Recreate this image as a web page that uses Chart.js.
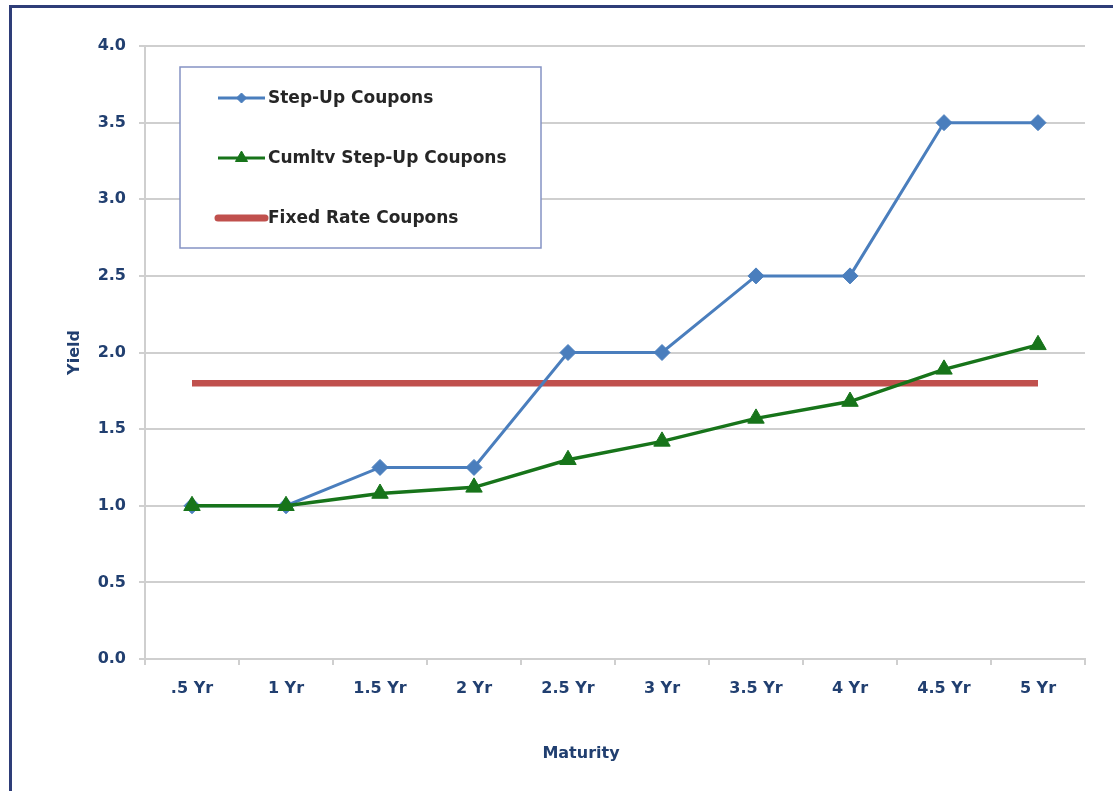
<!DOCTYPE html>
<html>
<head>
<meta charset="utf-8">
<title>Coupon Yield by Maturity</title>
<script src="https://cdn.jsdelivr.net/npm/chart.js@4.4.1/dist/chart.umd.min.js"></script>
<style>
  html, body { margin: 0; padding: 0; background: #ffffff; }
  #wrap { position: relative; width: 1113px; height: 791px; overflow: hidden; }
  #frame {
    position: absolute; left: 9px; top: 5px; width: 1200px; height: 900px;
    border-top: 3px solid #2e3d78; border-left: 3px solid #2e3d78;
    pointer-events: none;
  }
</style>
</head>
<body>
<div id="wrap">
  <canvas id="chart" width="1113" height="791"></canvas>
  <div id="frame"></div>
</div>
<script>
// Maturity buckets and yields per coupon structure
const maturities = ['.5 Yr', '1 Yr', '1.5 Yr', '2 Yr', '2.5 Yr', '3 Yr', '3.5 Yr', '4 Yr', '4.5 Yr', '5 Yr'];
const stepUpYield = [1.0, 1.0, 1.25, 1.25, 2.0, 2.0, 2.5, 2.5, 3.5, 3.5];
const cumulativeStepUpYield = [1.0, 1.0, 1.08, 1.12, 1.30, 1.42, 1.57, 1.68, 1.89, 2.05];
const fixedRateYield = [1.8, 1.8, 1.8, 1.8, 1.8, 1.8, 1.8, 1.8, 1.8, 1.8];
const seriesNames = ['Step-Up Coupons', 'Cumltv Step-Up Coupons', 'Fixed Rate Coupons'];
const xAxisTitle = 'Maturity';
const yAxisTitle = 'Yield';

const FONT = 'DejaVu Sans';
const NAVY = '#213f70';
const GRID = '#cfcfcf';

// Boxed legend inside the plot area, plus the x-axis title
const boxedLegend = {
  id: 'boxedLegend',
  afterDraw(chart) {
    const ctx = chart.ctx;
    const box = { x: 180, y: 67, w: 361, h: 181 };
    ctx.save();
    ctx.fillStyle = '#ffffff';
    ctx.fillRect(box.x, box.y, box.w, box.h);
    ctx.strokeStyle = '#8593c4';
    ctx.lineWidth = 1.5;
    ctx.strokeRect(box.x, box.y, box.w, box.h);

    const rows = [98, 158, 218];
    const lineStart = 218, lineEnd = 265, textX = 268;
    chart.data.datasets.forEach((ds, i) => {
      const y = rows[i];
      ctx.strokeStyle = ds.borderColor;
      ctx.lineWidth = ds.legendLineWidth;
      ctx.lineCap = ds.legendCap;
      ctx.beginPath();
      ctx.moveTo(lineStart, y);
      ctx.lineTo(lineEnd, y);
      ctx.stroke();
      if (ds.pointRadius > 0) {
        ctx.fillStyle = ds.pointBackgroundColor;
        ctx.strokeStyle = ds.pointBorderColor;
        ctx.lineWidth = 1;
        Chart.helpers.drawPoint(ctx, {
          pointStyle: ds.pointStyle,
          radius: ds.legendPointRadius,
          rotation: 0,
          borderWidth: 1
        }, (lineStart + lineEnd) / 2, y);
      }
      ctx.fillStyle = '#262626';
      ctx.font = 'bold 17px "' + FONT + '"';
      ctx.textAlign = 'left';
      ctx.textBaseline = 'middle';
      ctx.fillText(ds.label, textX, y + 1);
    });

    // x-axis title, set slightly left of the plot centre
    ctx.fillStyle = NAVY;
    ctx.font = 'bold 16px "' + FONT + '"';
    ctx.textAlign = 'center';
    ctx.textBaseline = 'middle';
    ctx.fillText(xAxisTitle, 581, 754);
    ctx.restore();
  }
};

new Chart(document.getElementById('chart'), {
  type: 'line',
  data: {
    labels: maturities,
    datasets: [
      {
        label: seriesNames[0],
        data: stepUpYield,
        borderColor: '#4a7ebd',
        backgroundColor: '#4a7ebd',
        borderWidth: 3,
        pointStyle: 'rectRot',
        pointRadius: 8,
        pointBackgroundColor: '#4a7ebd',
        pointBorderColor: '#4a7ebd',
        pointBorderWidth: 1,
        legendLineWidth: 3,
        legendPointRadius: 5,
        legendCap: 'butt',
        tension: 0,
        order: 1
      },
      {
        label: seriesNames[1],
        data: cumulativeStepUpYield,
        borderColor: '#17741a',
        backgroundColor: '#17741a',
        borderWidth: 3.5,
        pointStyle: 'triangle',
        pointRadius: 9.5,
        pointBackgroundColor: '#17741a',
        pointBorderColor: '#17741a',
        pointBorderWidth: 1,
        legendLineWidth: 3,
        legendPointRadius: 7,
        legendCap: 'butt',
        tension: 0,
        order: 0
      },
      {
        label: seriesNames[2],
        data: fixedRateYield,
        borderColor: '#c0504d',
        backgroundColor: '#c0504d',
        borderWidth: 6.5,
        borderCapStyle: 'butt',
        pointRadius: 0,
        legendLineWidth: 7,
        legendPointRadius: 0,
        legendCap: 'round',
        tension: 0,
        order: 2
      }
    ]
  },
  options: {
    responsive: false,
    animation: false,
    devicePixelRatio: 1,
    layout: { padding: { left: 0, right: 28, top: 46, bottom: 0 } },
    plugins: {
      legend: { display: false },
      tooltip: { enabled: false }
    },
    scales: {
      x: {
        type: 'category',
        offset: true,
        grid: {
          offset: true,
          drawOnChartArea: false,
          drawTicks: true,
          tickLength: 6,
          color: GRID,
          lineWidth: 2
        },
        border: { color: GRID, width: 2 },
        ticks: {
          color: NAVY,
          padding: 14,
          maxRotation: 0,
          autoSkip: false,
          font: { family: FONT, size: 16, weight: 'bold' }
        },
        title: { display: false },
        afterFit(scale) { scale.height = 132; }
      },
      y: {
        min: 0,
        max: 4,
        grid: {
          color: GRID,
          lineWidth: 2,
          drawTicks: true,
          tickLength: 6
        },
        border: { color: GRID, width: 2 },
        ticks: {
          stepSize: 0.5,
          color: NAVY,
          padding: 13,
          font: { family: FONT, size: 16, weight: 'bold' },
          callback: (v) => Number(v).toFixed(1)
        },
        title: {
          display: true,
          text: yAxisTitle,
          color: NAVY,
          padding: { top: 65, bottom: 0 },
          font: { family: FONT, size: 16, weight: 'bold' }
        },
        afterFit(scale) { scale.width = 145; }
      }
    }
  },
  plugins: [boxedLegend]
});
</script>
</body>
</html>
